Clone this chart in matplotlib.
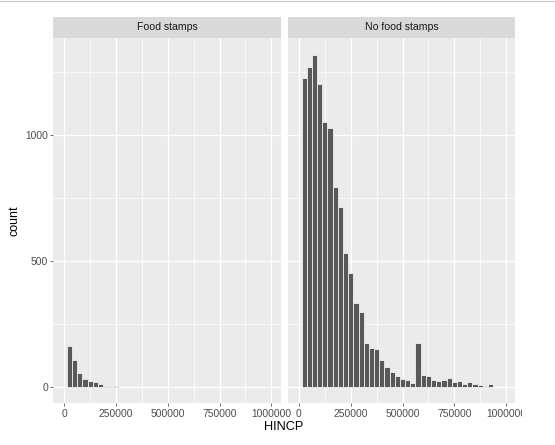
import numpy as np
import matplotlib
matplotlib.use("Agg")
import matplotlib.pyplot as plt
from matplotlib.patches import Rectangle
from matplotlib.lines import Line2D

plt.rcParams["font.family"] = ["Liberation Sans", "DejaVu Sans"]

# histogram bins (HINCP), binwidth 25000
BIN_START = 12500
BIN_WIDTH = 25000

panels = ["Food stamps", "No food stamps"]

counts_food = [162, 106, 53, 31, 22, 18, 12, 4, 2, 1,
               0, 0, 0, 0, 0, 0, 0, 0, 0, 0,
               0, 0, 0, 0, 0, 0, 0, 0, 0, 0,
               0, 0, 0, 0, 0, 0, 0, 0, 0, 0]

counts_nofood = [1226, 1271, 1320, 1204, 1053, 1028, 794, 716, 530, 451,
                 334, 298, 172, 153, 151, 105, 80, 58, 44, 31,
                 25, 16, 172, 48, 43, 27, 23, 25, 36, 20,
                 23, 12, 20, 9, 5, 2, 12, 0, 0, 0]

x_ticks = [0, 250000, 500000, 750000, 1000000]
x_minor = [125000, 375000, 625000, 875000]
y_ticks = [0, 500, 1000]
y_minor = [250, 750, 1250]

W, H = 555, 445
fig = plt.figure(figsize=(W / 100, H / 100), dpi=100)


def fx(px):
    return px / W


def fy(py):
    return 1 - py / H


panel_left = [53.3, 288.0]
panel_w = 227.4
panel_top, panel_bot = 38.0, 403.3
strip_top = 17.0

bin_left = BIN_START + BIN_WIDTH * np.arange(len(counts_nofood))
axes = []
for i, (name, cnt) in enumerate(zip(panels, [counts_food, counts_nofood])):
    ax = fig.add_axes([fx(panel_left[i]), fy(panel_bot), panel_w / W, (panel_bot - panel_top) / H])
    ax.set_facecolor("#EBEBEB")
    for v in x_minor:
        ax.axvline(v, color="white", lw=0.5, zorder=0.5)
    for v in y_minor:
        ax.axhline(v, color="white", lw=0.5, zorder=0.5)
    for v in x_ticks:
        ax.axvline(v, color="white", lw=1.0, zorder=0.6)
    for v in y_ticks:
        ax.axhline(v, color="white", lw=1.0, zorder=0.6)
    ax.bar(bin_left, cnt, width=BIN_WIDTH, align="edge", color="#595959",
           edgecolor="white", linewidth=0.5, zorder=2)
    ax.set_xlim(-53000, 1045000)
    ax.set_ylim(-66, 1386)
    for s in ax.spines.values():
        s.set_visible(False)
    ax.set_xticks(x_ticks)
    ax.set_xticklabels([str(v) for v in x_ticks])
    ax.tick_params(axis="both", length=2.4, width=0.5, color="#333333",
                   labelcolor="#4D4D4D", labelsize=7.4, pad=1.5)
    if i == 0:
        ax.set_yticks(y_ticks)
        ax.set_yticklabels([str(v) for v in y_ticks])
    else:
        ax.set_yticks([])
    ax.minorticks_off()
    axes.append(ax)

    # facet strip
    sax = fig.add_axes([fx(panel_left[i]), fy(panel_top), panel_w / W, (panel_top - strip_top) / H])
    sax.set_facecolor("#D9D9D9")
    sax.set_xticks([])
    sax.set_yticks([])
    for s in sax.spines.values():
        s.set_visible(False)
    sax.text(0.5, 0.5, name, ha="center", va="center", fontsize=7.6,
             color="#1A1A1A", transform=sax.transAxes)

fig.text(fx(15), fy(220.5), "count", rotation=90, ha="center", va="center", fontsize=9.0)
fig.text(fx(284), fy(427.5), "HINCP", ha="center", va="center", fontsize=9.2)

# the original image is cut on the right and has a thin border on top
fig.add_artist(Rectangle((fx(522), 0), 1 - fx(522), 1, transform=fig.transFigure,
                         facecolor="white", edgecolor="none", zorder=10))
fig.add_artist(Line2D([0, 1], [1 - 0.6 / H, 1 - 0.6 / H], transform=fig.transFigure,
                      color="#C8C8C8", lw=0.8, zorder=11))

fig.savefig("out.png", dpi=100, facecolor="white")
